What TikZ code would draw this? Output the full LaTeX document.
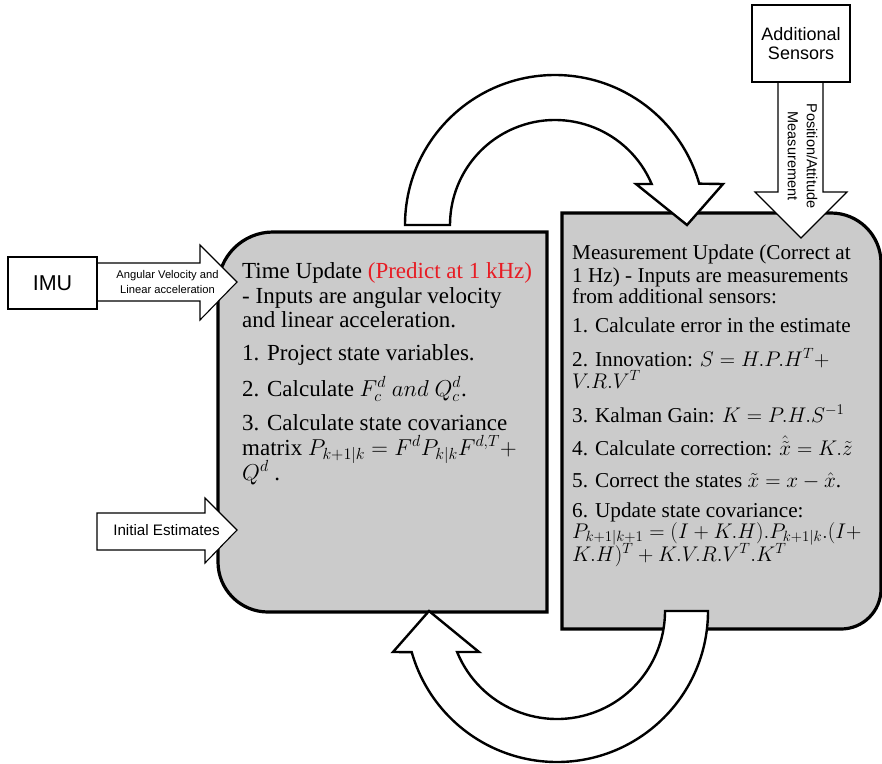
\RequirePackage{fix-cm}
\documentclass[tikz,border=0pt]{standalone}
\usepackage{fontspec}
\setmainfont{Liberation Serif}
\newfontfamily\arial{Liberation Sans}
\usetikzlibrary{calc}
\definecolor{panel}{RGB}{203,203,203}
\definecolor{hot}{RGB}{232,28,36}
\begin{document}
\begin{tikzpicture}[x=1pt,y=-1pt,
  panelbox/.style={draw=black, line width=3.2pt, fill=panel, line join=miter},
  bigarrow/.style={draw=black, line width=2.4pt, fill=white, line join=miter},
  feedarrow/.style={draw=black, line width=1.1pt, fill=white, line join=miter},
  srcbox/.style={draw=black, line width=1.1pt, fill=white, inner sep=0pt, align=center,
                 font=\arial\fontsize{18}{19.5}\selectfont},
  ltext/.style={anchor=base west, inner sep=0pt, font=\fontsize{23}{24}\selectfont},
  rtext/.style={anchor=base west, inner sep=0pt, font=\fontsize{21.2}{22}\selectfont},
  tag/.style={inner sep=0pt, align=center, font=\arial\fontsize{11.2}{14.5}\selectfont}]
\useasboundingbox (0,0) rectangle (882,763);

% time update panel
\draw[panelbox] (547,232) -- (273,232) arc[start angle=270, end angle=180, radius=55]
  -- (218,562) arc[start angle=180, end angle=90, radius=50] -- (547,612) -- cycle;
% measurement update panel
\draw[panelbox] (562,213) -- (831,213) arc[start angle=270, end angle=360, radius=50]
  -- (881,589) arc[start angle=0, end angle=90, radius=40] -- (562,629) -- cycle;

% loop arrow: predict -> correct
\draw[bigarrow] (405,225) arc[start angle=180, end angle=344, radius=150]
  -- (723,184) -- (687,225) -- (636,184) -- ($(555,225)+(337:105)$)
  arc[start angle=337, end angle=180, radius=105] -- cycle;
% loop arrow: correct -> predict
\draw[bigarrow] (708,611) arc[start angle=0, end angle=164.2, radius=151]
  -- (393,652) -- (429,611) -- (479,652) -- ($(557,611)+(157.7:108)$)
  arc[start angle=157.7, end angle=0, radius=108] -- cycle;

% sensor input arrow
\draw[feedarrow] (778,82) -- (778,192) -- (755,192) -- (801,238) -- (847,192)
  -- (823,192) -- (823,82) -- cycle;
\node[tag, rotate=-90, font=\arial\fontsize{14.5}{19}\selectfont] (meas) at (802.5,156)
  {Position/Attitude\\Measurement};

% IMU input arrow
\draw[feedarrow] (97,263) -- (200,263) -- (200,245) -- (237,282) -- (200,320)
  -- (200,301) -- (97,301) -- cycle;
\node[tag] (imulabel) at (167.5,282) {Angular Velocity and\\Linear acceleration};

% initial estimate arrow
\draw[feedarrow] (97,513) -- (205,513) -- (205,498) -- (237,530) -- (205,563)
  -- (205,550) -- (97,550) -- cycle;
\node[tag, font=\arial\fontsize{15.2}{17}\selectfont] (initlabel) at (166.5,530.5) {Initial Estimates};

% sources
\node[srcbox, minimum width=89pt, minimum height=52pt, font=\arial\fontsize{21.5}{24}\selectfont]
  (imu) at (52.5,283) {IMU};
\node[srcbox, minimum width=98pt, minimum height=77pt] (sensors) at (801,43.5)
  {Additional\\Sensors};

% time update text
\node[ltext] (t1) at (242,278) {Time Update \textcolor{hot}{(Predict at 1 kHz)}};
\node[ltext] (t2) at (242,303) {- Inputs are angular velocity};
\node[ltext] (t3) at (242,327) {and linear acceleration.};
\node[ltext] (t4) at (242,360) {1. Project state variables.};
\node[ltext] (t5) at (242,396) {2. Calculate $F_c^d\ and\ Q_c^d$.};
\node[ltext] (t6) at (242,430) {3. Calculate state covariance};
\node[ltext] (t7) at (242,455) {matrix $P_{k+1|k}=F^dP_{k|k}F^{d,T}+$};
\node[ltext] (t8) at (242,480) {$Q^d$ .};

% measurement update text
\node[rtext] (m1) at (572,259) {Measurement Update (Correct at};
\node[rtext] (m2) at (572,282) {1 Hz) - Inputs are measurements};
\node[rtext] (m3) at (572,303) {from additional sensors:};
\node[rtext] (m4) at (572,332) {1. Calculate error in the estimate};
\node[rtext] (m5) at (572,366) {2. Innovation: $S=H.P.H^T+$};
\node[rtext] (m6) at (572,388) {$V.R.V^T$};
\node[rtext] (m7) at (572,422) {3. Kalman Gain: $K=P.H.S^{-1}$};
\node[rtext] (m8) at (572,455) {4. Calculate correction: $\hat{\tilde{x}}=K.\tilde{z}$};
\node[rtext] (m9) at (572,487) {5. Correct the states $\tilde{x}=x-\hat{x}$.};
\node[rtext] (m10) at (572,517) {6. Update state covariance:};
\node[rtext] (m11) at (572,538) {$P_{k+1|k+1}=(I+K.H).P_{k+1|k}.(I+$};
\node[rtext] (m12) at (572,561) {$K.H)^T+K.V.R.V^T.K^T$};
\end{tikzpicture}
\end{document}
